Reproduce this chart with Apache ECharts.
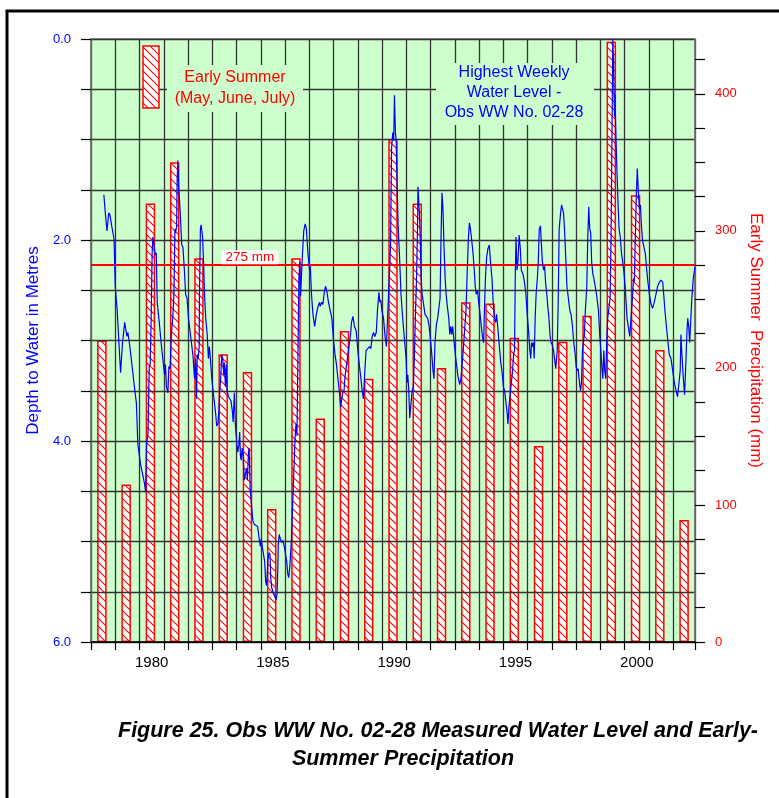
<!DOCTYPE html>
<html><head><meta charset="utf-8">
<script src="https://cdn.jsdelivr.net/npm/echarts@6/dist/echarts.min.js"></script>
<style>html,body{margin:0;padding:0;background:#fff}#c{width:779px;height:798px}</style>
</head><body><div id="c"></div>
<script>
// ---- data ----
const years = [1978,1979,1980,1981,1982,1983,1984,1985,1986,1987,1988,1989,1990,1991,1992,1993,1994,1995,1996,1997,1998,1999,2000,2001,2002];
const precipMm = [220,115,320,350,280,210,197,97,280,163,227,192,367,320,200,248,247,222,143,219,238,438,326,213,89];
const midSeason = 0.45; // centre of May-July within the year
const thresholdMm = 275;
const waterDate = [
1978.53,1978.59,1978.66,1978.73,1978.78,1978.86,1978.95,1979.00,1979.08,1979.15,1979.22,1979.30,1979.39,1979.48,1979.52,1979.58,1979.66,1979.77,1979.87,1979.93,
1980.04,1980.11,1980.21,1980.25,1980.29,1980.35,1980.40,1980.44,1980.48,1980.52,1980.55,1980.59,1980.65,1980.69,1980.73,1980.78,1980.83,1980.89,1980.96,
1981.03,1981.07,1981.11,1981.17,1981.21,1981.26,1981.31,1981.37,1981.42,1981.46,1981.48,1981.53,1981.55,1981.58,1981.61,1981.68,1981.74,1981.79,1981.85,1981.90,1981.96,
1982.02,1982.10,1982.20,1982.27,1982.31,1982.35,1982.38,1982.42,1982.46,1982.47,1982.51,1982.54,1982.60,1982.64,1982.68,1982.73,1982.79,1982.84,1982.88,1982.92,1982.98,
1983.05,1983.09,1983.14,1983.18,1983.23,1983.27,1983.31,1983.35,1983.39,1983.43,1983.47,1983.50,1983.54,1983.58,1983.61,1983.67,1983.73,1983.77,1983.83,1983.86,1983.91,1983.95,
1984.01,1984.05,1984.10,1984.13,1984.16,1984.19,1984.23,1984.27,1984.32,1984.36,1984.41,1984.45,1984.49,1984.52,1984.56,1984.60,1984.67,1984.73,1984.80,1984.87,1984.94,1984.98,
1985.02,1985.06,1985.12,1985.16,1985.20,1985.24,1985.30,1985.34,1985.38,1985.41,1985.45,1985.50,1985.56,1985.63,1985.67,1985.70,1985.72,1985.76,1985.80,1985.86,1985.91,1985.97,
1986.02,1986.07,1986.11,1986.15,1986.20,1986.26,1986.35,1986.41,1986.45,1986.49,1986.53,1986.57,1986.61,1986.64,1986.68,1986.72,1986.77,1986.83,1986.88,1986.94,
1987.01,1987.04,1987.09,1987.15,1987.22,1987.29,1987.36,1987.42,1987.45,1987.51,1987.56,1987.63,1987.67,1987.73,1987.79,1987.86,1987.93,1987.99,
1988.06,1988.11,1988.18,1988.25,1988.29,1988.34,1988.38,1988.43,1988.48,1988.55,1988.59,1988.63,1988.70,1988.74,1988.80,1988.86,1988.93,
1989.00,1989.07,1989.11,1989.18,1989.23,1989.29,1989.34,1989.41,1989.48,1989.54,1989.59,1989.65,1989.70,1989.76,1989.81,1989.87,1989.91,1989.95,1989.99,
1990.06,1990.13,1990.18,1990.24,1990.28,1990.35,1990.39,1990.44,1990.48,1990.51,1990.55,1990.58,1990.62,1990.66,1990.72,1990.78,1990.85,1990.92,1990.99,
1991.03,1991.06,1991.10,1991.14,1991.18,1991.24,1991.29,1991.33,1991.37,1991.42,1991.46,1991.48,1991.53,1991.57,1991.61,1991.65,1991.70,1991.77,1991.83,1991.88,1991.94,1991.99,
1992.05,1992.10,1992.14,1992.18,1992.24,1992.29,1992.33,1992.39,1992.43,1992.47,1992.51,1992.55,1992.60,1992.64,1992.69,1992.75,1992.79,1992.83,1992.87,1992.91,1992.97,
1993.02,1993.08,1993.13,1993.20,1993.25,1993.32,1993.39,1993.46,1993.50,1993.56,1993.60,1993.64,1993.68,1993.75,1993.80,1993.84,1993.88,1993.94,1993.98,
1994.04,1994.09,1994.15,1994.19,1994.21,1994.26,1994.31,1994.36,1994.42,1994.47,1994.53,1994.58,1994.64,1994.68,1994.72,1994.78,1994.85,1994.89,1994.94,
1995.00,1995.05,1995.09,1995.15,1995.19,1995.23,1995.28,1995.33,1995.38,1995.42,1995.46,1995.49,1995.52,1995.56,1995.60,1995.65,1995.70,1995.74,1995.81,1995.87,1995.93,1995.97,
1996.01,1996.05,1996.09,1996.13,1996.16,1996.20,1996.24,1996.27,1996.31,1996.35,1996.40,1996.44,1996.48,1996.53,1996.57,1996.61,1996.66,1996.70,1996.74,1996.79,1996.83,1996.88,1996.92,1996.96,
1997.01,1997.07,1997.11,1997.16,1997.22,1997.26,1997.30,1997.36,1997.40,1997.44,1997.48,1997.52,1997.58,1997.62,1997.66,1997.70,1997.74,1997.79,1997.85,1997.90,1997.96,
1998.00,1998.04,1998.08,1998.12,1998.18,1998.22,1998.26,1998.30,1998.34,1998.38,1998.44,1998.48,1998.52,1998.56,1998.60,1998.64,1998.69,1998.73,1998.78,1998.84,1998.88,1998.92,1998.97,
1999.02,1999.06,1999.10,1999.14,1999.18,1999.22,1999.26,1999.30,1999.34,1999.40,1999.44,1999.47,1999.50,1999.51,1999.54,1999.58,1999.60,1999.65,1999.69,1999.73,1999.77,1999.82,1999.87,1999.92,1999.96,
2000.02,2000.06,2000.10,2000.15,2000.21,2000.25,2000.32,2000.37,2000.40,2000.44,2000.48,2000.52,2000.56,2000.61,2000.65,2000.69,2000.74,2000.78,2000.81,2000.85,2000.91,2000.96,
2001.02,2001.09,2001.15,2001.22,2001.29,2001.36,2001.43,2001.50,2001.57,2001.61,2001.66,2001.72,2001.77,2001.84,2001.91,2001.98,
2002.05,2002.12,2002.18,2002.25,2002.29,2002.32,2002.36,2002.42,2002.47,2002.53,2002.57,2002.60,2002.64,2002.68,2002.73,2002.77,2002.83,2002.90
];
const waterDepth = [
1.55,1.73,1.91,1.73,1.75,1.87,1.99,2.46,2.70,3.02,3.32,3.02,2.82,2.96,2.92,3.02,3.18,3.42,3.62,4.03,
4.23,4.31,4.43,4.51,4.03,3.93,3.26,3.24,2.78,2.13,1.97,2.05,2.15,2.13,2.62,2.74,2.86,3.02,3.18,
3.34,3.24,3.46,3.52,3.26,3.28,2.94,2.78,2.54,1.89,1.93,1.87,1.41,1.21,1.45,1.73,2.05,2.07,2.30,2.54,2.58,
2.78,2.94,3.14,3.38,3.18,3.58,3.14,3.18,3.06,2.58,1.89,1.85,1.97,2.22,2.54,2.78,2.94,3.18,3.06,3.18,3.38,
3.54,3.62,3.73,3.85,3.83,3.71,3.50,3.36,3.14,3.18,3.34,3.22,3.46,3.24,3.50,3.56,3.56,3.60,3.71,3.81,3.52,3.83,
4.03,4.11,4.03,3.91,4.15,4.19,4.07,4.15,4.39,4.39,4.27,4.39,4.11,4.07,4.47,4.59,4.79,4.83,4.83,4.85,4.99,5.05,
4.97,5.05,5.05,5.20,5.40,5.44,5.16,5.11,5.13,5.36,5.46,5.50,5.54,5.58,5.52,5.28,5.03,4.93,4.97,5.01,4.99,5.05,
5.13,5.20,5.32,5.36,5.24,4.99,4.39,3.99,3.83,3.95,3.18,2.38,2.22,2.56,2.34,2.13,1.91,1.84,1.89,2.13,
2.30,2.26,2.54,2.74,2.86,2.74,2.66,2.62,2.66,2.62,2.64,2.50,2.46,2.52,2.62,2.70,2.78,2.98,
3.14,3.22,3.38,3.54,3.66,3.58,3.52,3.50,3.34,3.22,3.14,3.14,2.94,2.82,2.76,2.86,2.90,
3.10,3.26,3.34,3.50,3.58,3.30,3.10,3.08,3.06,3.08,2.96,2.92,2.96,2.92,2.70,2.52,2.62,2.60,2.70,
2.78,2.98,3.06,2.70,2.46,2.05,1.09,0.93,1.01,0.56,0.93,1.01,1.45,1.85,2.17,2.54,2.78,2.98,3.18,
3.42,3.34,3.50,3.77,3.66,3.50,3.46,3.18,2.78,2.38,1.89,1.47,1.69,1.97,2.38,2.54,2.62,2.74,2.74,2.78,2.86,2.98,
3.14,3.30,3.38,3.02,2.84,2.78,2.70,2.58,1.97,1.53,1.69,2.05,2.38,2.54,2.66,2.78,2.94,2.86,2.94,2.86,3.02,
3.14,3.26,3.36,3.44,3.38,3.18,2.94,2.70,2.38,1.97,1.83,1.89,1.97,2.13,2.30,2.46,2.54,2.50,2.62,
2.74,2.86,2.98,3.02,2.78,2.38,2.17,2.09,2.05,2.22,2.38,2.62,2.78,2.82,2.74,2.90,3.10,3.22,3.30,
3.46,3.50,3.58,3.71,3.83,3.66,3.54,3.42,3.30,3.14,3.10,2.38,1.97,2.30,2.22,1.95,2.09,2.30,2.34,2.42,2.54,2.70,
2.82,2.94,3.10,3.18,3.02,3.06,3.02,3.18,2.78,2.54,2.38,2.22,1.89,1.86,2.05,2.22,2.30,2.26,2.42,2.54,2.66,2.78,2.94,3.02,
3.04,3.10,3.18,3.28,3.10,2.62,1.89,1.73,1.65,1.65,1.73,1.89,2.22,2.46,2.54,2.62,2.70,2.74,2.86,3.02,3.14,
3.26,3.30,3.28,3.38,3.50,3.42,3.10,3.02,2.94,2.70,2.46,1.97,1.67,1.89,1.93,2.22,2.34,2.38,2.38,2.54,2.62,2.70,2.94,
3.10,3.26,3.38,3.10,3.30,3.38,3.02,2.78,2.70,2.58,1.97,1.17,0.36,0.00,0.20,0.77,0.56,1.05,1.37,1.65,1.89,1.97,2.13,2.22,2.30,
2.46,2.62,2.78,2.86,2.96,2.82,2.58,2.38,2.42,1.97,1.57,1.29,1.49,1.69,1.65,1.85,2.01,2.05,2.09,2.13,2.30,2.42,
2.54,2.64,2.68,2.62,2.54,2.46,2.42,2.40,2.42,2.54,2.70,2.86,2.98,3.14,3.18,3.30,
3.42,3.50,3.56,3.56,3.30,2.94,3.14,3.38,3.54,3.18,2.90,2.78,2.86,3.02,2.78,2.58,2.38,2.27
];
const depthLabelStep = 2;      // metres between labelled ticks
const precipTickStep = 25;     // mm between ticks
const precipMax = 440;
const precipLabelStep = 100;   // mm between labelled ticks
const yearLabelStep = 5;

// ---- styling helpers ----
const FONT = '"Liberation Sans", Arial, Helvetica, sans-serif';
const GREEN = '#ccffcc';
function hatchCanvas(){
  const s = 8, c = document.createElement('canvas');
  c.width = s; c.height = s;
  const g = c.getContext('2d');
  g.fillStyle = '#ffffff'; g.fillRect(0,0,s,s);
  g.strokeStyle = '#ff0000'; g.lineWidth = 1.1;
  g.beginPath();
  g.moveTo(-1,-1); g.lineTo(s+1,s+1);
  g.moveTo(s-1,-1); g.lineTo(s+1,1);
  g.moveTo(-1,s-1); g.lineTo(1,s+1);
  g.stroke();
  return c;
}
const hatch = hatchCanvas();
const near = (v, step) => Math.abs(v/step - Math.round(v/step)) < 1e-6;
const precipTicks = [];
for (let v = 0; v < precipMax; v += precipTickStep) precipTicks.push(v);
const precipLabels = precipTicks.filter(v => near(v, precipLabelStep));

const chart = echarts.init(document.getElementById('c'), null, {renderer:'canvas'});
const option = {
  backgroundColor: '#ffffff',
  animation: false,
  textStyle: {fontFamily: FONT},
  grid: {left: 91, right: 84, top: 39, bottom: 156, show: true, backgroundColor: GREEN, borderColor: '#777', borderWidth: 1.5},
  xAxis: [
    {type: 'value', min: 1978, max: 2002.9, interval: 1, z: 3,
     axisLine: {show: true, onZero: false, lineStyle: {color: '#000', width: 1.5}},
     axisTick: {show: true, length: 8, lineStyle: {color: '#000', width: 1.2}},
     axisLabel: {show: false},
     splitLine: {show: true, lineStyle: {color: '#333', width: 1.3}}},
    {type: 'value', min: 1977.5, max: 2002.4, interval: 0.5, position: 'bottom', z: 3,
     axisLine: {show: false}, axisTick: {show: false}, splitLine: {show: false},
     axisLabel: {show: true, margin: 13, fontSize: 15, color: '#000', fontFamily: FONT,
       formatter: v => near(v, yearLabelStep) ? String(Math.round(v)) : ''}}
  ],
  yAxis: [
    {type: 'value', inverse: true, min: 0, max: 6, interval: 0.5, position: 'left', z: 3,
     name: 'Depth to Water in Metres', nameLocation: 'middle', nameGap: 40, nameRotate: 90,
     nameTextStyle: {color: '#0000ff', fontSize: 17, fontFamily: FONT},
     axisLine: {show: true, lineStyle: {color: '#777', width: 1.5}},
     axisTick: {show: true, length: 10, lineStyle: {color: '#000', width: 1.2}},
     axisLabel: {margin: 20, color: '#0000ff', fontSize: 13, fontFamily: FONT,
       formatter: v => near(v, depthLabelStep) ? v.toFixed(1) : ''},
     splitLine: {show: true, lineStyle: {color: '#333', width: 1.3}}},
    {type: 'value', min: 0, max: precipMax, interval: precipTickStep, position: 'right', z: 3,
     name: 'Early Summer  Precipitation (mm)', nameLocation: 'middle', nameGap: 45, nameRotate: -90,
     nameTextStyle: {color: '#ff0000', fontSize: 17, fontFamily: FONT},
     axisLine: {show: true, lineStyle: {color: '#777', width: 1.5}},
     axisTick: {show: true, length: 10, customValues: precipTicks, lineStyle: {color: '#000', width: 1.2}},
     axisLabel: {margin: 20, color: '#ff0000', fontSize: 13, fontFamily: FONT, customValues: precipLabels,
       formatter: v => near(v, precipLabelStep) ? String(v) : ''},
     splitLine: {show: false}}
  ],
  series: [
    {type: 'bar', name: 'Early Summer (May, June, July)', xAxisIndex: 0, yAxisIndex: 1, barWidth: 9.5, z: 2,
     data: years.map((y, i) => [y + midSeason, precipMm[i]]),
     itemStyle: {color: {image: hatch, repeat: 'repeat'}, borderColor: '#ff0000', borderWidth: 1.5}},
    {type: 'line', name: 'threshold', xAxisIndex: 0, yAxisIndex: 1, data: [], z: 4, silent: true,
     markLine: {symbol: 'none', silent: true, animation: false,
       lineStyle: {color: '#ff0000', width: 2, type: 'solid'}, label: {show: false},
       data: [{yAxis: thresholdMm}]},
     markPoint: {silent: true, animation: false,
       data: [{coord: [1984.55, thresholdMm], value: thresholdMm}],
       symbol: 'rect', symbolSize: [57, 14], symbolOffset: [0, -8],
       itemStyle: {color: '#ffffff'},
       label: {show: true, position: 'inside', color: '#ff0000', fontSize: 13.5, fontFamily: FONT,
         formatter: p => p.value + ' mm'}}},
    {type: 'line', name: 'Highest Weekly Water Level', xAxisIndex: 0, yAxisIndex: 0, z: 5,
     data: waterDate.map((d, i) => [d, waterDepth[i]]),
     showSymbol: false, symbol: 'none', lineStyle: {color: '#0000ff', width: 1.2}}
  ],
  graphic: [
    {type: 'rect', z: 1, silent: true, shape: {x: 7, y: 11, width: 800, height: 800},
     style: {fill: 'none', stroke: '#000', lineWidth: 3}},
    {type: 'rect', z: 10, silent: true, shape: {x: 167, y: 65, width: 136, height: 47}, style: {fill: GREEN}},
    {type: 'text', z: 11, silent: true, x: 235, y: 88,
     style: {text: 'Early Summer\n(May, June, July)', fill: '#ff0000', fontSize: 16, fontFamily: FONT,
       align: 'center', verticalAlign: 'middle', lineHeight: 21}},
    {type: 'rect', z: 11, silent: true, shape: {x: 143, y: 46, width: 16, height: 62},
     style: {fill: {image: hatch, repeat: 'repeat'}, stroke: '#ff0000', lineWidth: 1.5}},
    {type: 'rect', z: 10, silent: true, shape: {x: 436, y: 63, width: 158, height: 62}, style: {fill: GREEN}},
    {type: 'text', z: 11, silent: true, x: 514, y: 93,
     style: {text: 'Highest Weekly\nWater Level -\nObs WW No. 02-28', fill: '#0000ff', fontSize: 16, fontFamily: FONT,
       align: 'center', verticalAlign: 'middle', lineHeight: 20}},
    {type: 'text', z: 11, silent: true, x: 438, y: 731,
     style: {text: 'Figure 25. Obs WW No. 02-28 Measured Water Level and Early-', fill: '#000',
       fontSize: 21.5, fontWeight: 'bold', fontStyle: 'italic', fontFamily: FONT, align: 'center', verticalAlign: 'middle'}},
    {type: 'text', z: 11, silent: true, x: 403, y: 759,
     style: {text: 'Summer Precipitation', fill: '#000',
       fontSize: 21.5, fontWeight: 'bold', fontStyle: 'italic', fontFamily: FONT, align: 'center', verticalAlign: 'middle'}}
  ]
};
chart.setOption(option);
</script>
</body></html>
